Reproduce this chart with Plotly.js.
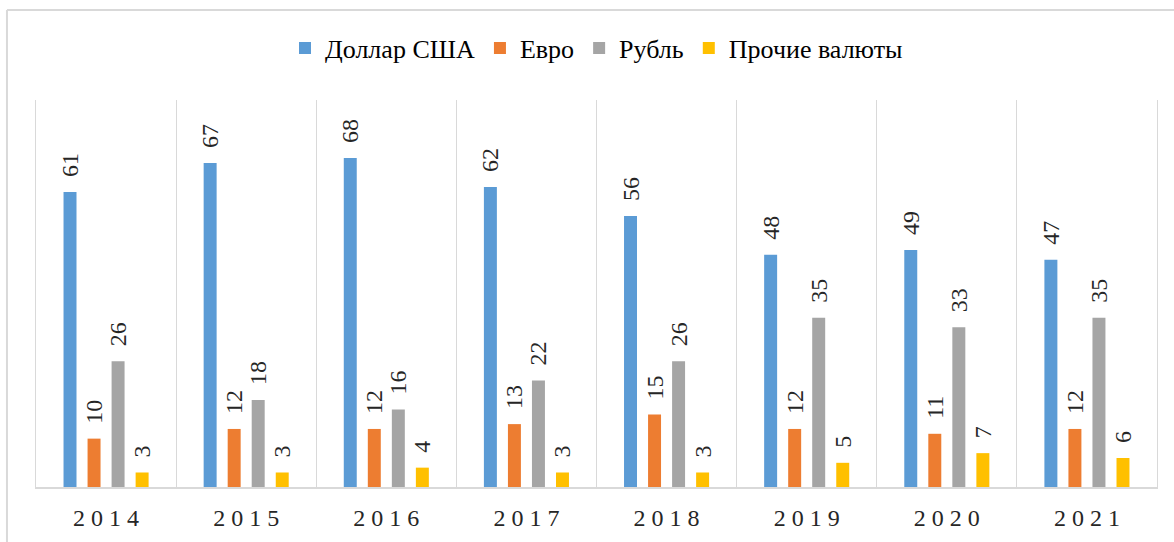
<!DOCTYPE html>
<html>
<head>
<meta charset="utf-8">
<script src="https://cdn.plot.ly/plotly-3.0.1.min.js"></script>
</head>
<body style="margin:0">
<div id="chart"></div>
<script>
const years = ['2014', '2015', '2016', '2017', '2018', '2019', '2020', '2021'];
const seriesNames = ['Доллар США', 'Евро', 'Рубль', 'Прочие валюты'];
const usd = [61, 67, 68, 62, 56, 48, 49, 47];
const eur = [10, 12, 12, 13, 15, 12, 11, 12];
const rub = [26, 18, 16, 22, 26, 35, 33, 35];
const other = [3, 3, 4, 3, 3, 5, 7, 6];
const colors = ['#5b9bd5', '#ed7d31', '#a5a5a5', '#ffc000'];
const allValues = [usd, eur, rub, other];
const FONT = 'Liberation Serif';

const traces = allValues.map((vals, i) => ({
  type: 'bar',
  name: seriesNames[i],
  x: years,
  y: vals,
  marker: { color: colors[i] },
  text: vals.map(v => '\u00a0\u00a0' + v),
  textposition: 'outside',
  textangle: -90,
  constraintext: 'none',
  cliponaxis: false,
  textfont: { family: FONT, size: 24, color: '#262626' },
  outsidetextfont: { family: FONT, size: 24, color: '#262626' }
}));

const frameColor = '#d9d9d9';

Plotly.newPlot('chart', traces, {
  width: 1174, height: 542,
  font: { family: FONT, size: 24, color: '#262626' },
  margin: { l: 36, r: 17, t: 100, b: 55 },
  barmode: 'group',
  bargap: 0.314,
  bargroupgap: 0.46,
  legend: {
    orientation: 'h',
    x: 0.5, xanchor: 'center',
    y: 1.134, yanchor: 'middle',
    font: { family: FONT, size: 26, color: '#000000' }
  },
  xaxis: {
    type: 'category',
    tickvals: years,
    ticktext: years.map(y => y.split('').join(' ')),
    tickson: 'boundaries',
    ticks: '',
    showgrid: true,
    gridcolor: frameColor,
    gridwidth: 1,
    showline: true,
    linecolor: frameColor,
    linewidth: 2,
    ticklabelstandoff: 8,
    tickfont: { family: FONT, size: 24, color: '#262626' }
  },
  yaxis: {
    range: [0, 80],
    showgrid: false,
    zeroline: false,
    showticklabels: false,
    ticks: '',
    showline: true,
    mirror: true,
    linecolor: frameColor,
    linewidth: 1
  },
  shapes: [
    { type: 'line', xref: 'paper', yref: 'paper', x0: -0.0259, x1: -0.0259, y0: -0.3, y1: 1.2326,
      line: { color: frameColor, width: 2 } },
    { type: 'line', xref: 'paper', yref: 'paper', x0: -0.0259, x1: 1.1, y0: 1.2326, y1: 1.2326,
      line: { color: frameColor, width: 2 } }
  ]
}, { displayModeBar: false });
</script>
</body>
</html>
